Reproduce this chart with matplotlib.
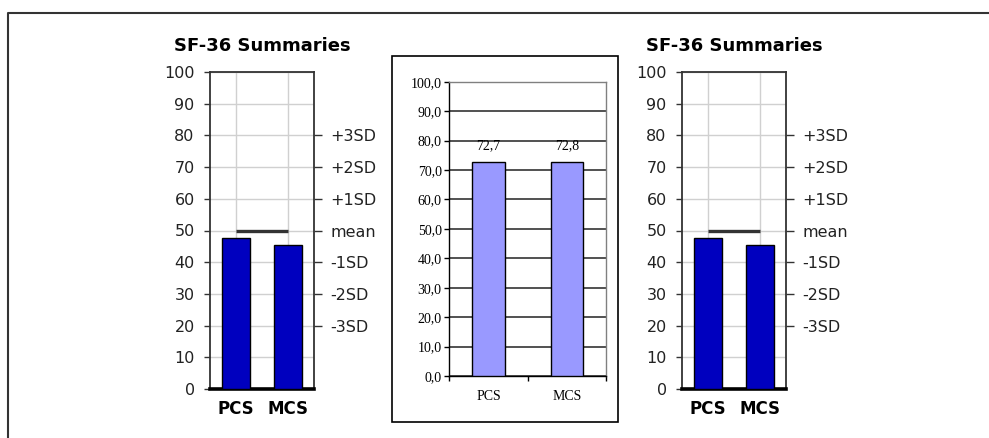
import matplotlib
matplotlib.use("Agg")
import matplotlib.pyplot as plt
from matplotlib.lines import Line2D
from matplotlib.patches import Rectangle

# ---- data ----
categories = ["PCS", "MCS"]
sf36_values = [47.7, 45.4]          # side panels (norm-based scores)
mean_value = 50
sd_ticks = [80, 70, 60, 50, 40, 30, 20]
sd_labels = ["+3SD", "+2SD", "+1SD", "mean", "-1SD", "-2SD", "-3SD"]
left_ticks = list(range(0, 101, 10))

mid_values = [72.7, 72.8]
mid_labels = ["72,7", "72,8"]
mid_ticks = list(range(0, 101, 10))
mid_ticklabels = [f"{t},0" for t in mid_ticks]

W, H = 989, 438
fig = plt.figure(figsize=(W / 100, H / 100), dpi=100)

def fx(px):
    return px / W

def fy(py):
    return 1 - py / H

SANS = "DejaVu Sans"
SERIF = "Liberation Serif"

def side_panel(x0, x1):
    y0, y1 = 72, 389
    ax = fig.add_axes([fx(x0), fy(y1), fx(x1 - x0), (y1 - y0) / H])
    xs = range(len(categories))
    ax.set_xlim(-0.5, 1.5)
    ax.set_ylim(0, 100)
    ax.bar(xs, sf36_values, width=0.52, color="#0000BF", edgecolor="black",
           linewidth=1.0, zorder=3)
    ax.plot([0, 1], [mean_value, mean_value], color="#333333", lw=2.4,
            solid_capstyle="butt", zorder=4)
    ax.set_axisbelow(True)
    ax.grid(True, color="#d0d0d0", lw=1.0)
    ax.set_yticks(left_ticks)
    ax.set_yticklabels([str(t) for t in left_ticks], fontsize=11.5, family=SANS,
                       color="#222222")
    ax.set_xticks(list(xs))
    ax.set_xticklabels(categories, fontsize=12, fontweight="bold", family=SANS)
    ax.tick_params(axis="x", length=0, pad=8)
    ax.tick_params(axis="y", length=4, width=1, direction="out", pad=7,
                   color="#333333")
    for s in ["left", "top", "right"]:
        ax.spines[s].set_color("#333333")
        ax.spines[s].set_linewidth(1.3)
    ax.spines["bottom"].set_color("black")
    ax.spines["bottom"].set_linewidth(2.6)
    ax.set_title("SF-36 Summaries", fontsize=13, fontweight="bold", family=SANS,
                 pad=15)
    ax2 = ax.twinx()
    ax2.set_ylim(0, 100)
    ax2.set_yticks(sd_ticks)
    ax2.set_yticklabels(sd_labels, fontsize=11.5, family=SANS, color="#222222")
    ax2.tick_params(axis="y", length=6, width=1, direction="out", pad=6,
                    color="#333333")
    for s in ax2.spines.values():
        s.set_visible(False)
    return ax

side_panel(210, 314)
side_panel(682, 786)

# ---- middle panel ----
fig.add_artist(Rectangle((fx(392), fy(421.5)), fx(618 - 392), (421.5 - 56) / H,
                         transform=fig.transFigure, fill=False,
                         edgecolor="black", lw=1.2))
mx0, mx1, my0, my1 = 449.3, 606, 81.7, 376
axm = fig.add_axes([fx(mx0), fy(my1), fx(mx1 - mx0), (my1 - my0) / H])
xs = list(range(len(categories)))
axm.set_xlim(-0.5, 1.5)
axm.set_ylim(0, 100)
axm.set_axisbelow(True)
axm.yaxis.grid(True, color="#222222", lw=1.1)
bars = axm.bar(xs, mid_values, width=0.415, color="#9999FF", edgecolor="black",
               linewidth=1.0, zorder=3)
for b, lab in zip(bars, mid_labels):
    axm.annotate(lab, (b.get_x() + b.get_width() / 2, b.get_height()),
                 xytext=(0, 7), textcoords="offset points", ha="center",
                 va="bottom", fontsize=10, family=SERIF)
axm.set_yticks(mid_ticks)
axm.set_yticklabels(mid_ticklabels, fontsize=10, family=SERIF)
axm.tick_params(axis="y", length=3.5, width=1, direction="out", pad=2)
axm.set_xticks([-0.5, 0.5, 1.5])
axm.set_xticklabels([])
axm.set_xticks(xs, minor=True)
axm.set_xticklabels(categories, minor=True, fontsize=10, family=SERIF)
axm.tick_params(axis="x", which="major", length=3.5, width=1, direction="out")
axm.tick_params(axis="x", which="minor", length=0, pad=10)
axm.spines["left"].set_color("black")
axm.spines["bottom"].set_color("black")
axm.spines["top"].set_color("#808080")
axm.spines["right"].set_color("#808080")
for s in axm.spines.values():
    s.set_linewidth(1.0)

# ---- outer border (top and left) ----
fig.add_artist(Line2D([fx(8), fx(8), 1.0], [0.0, fy(13), fy(13)],
                      transform=fig.transFigure, color="#333333", lw=1.5))

fig.savefig("out.png", dpi=100)
